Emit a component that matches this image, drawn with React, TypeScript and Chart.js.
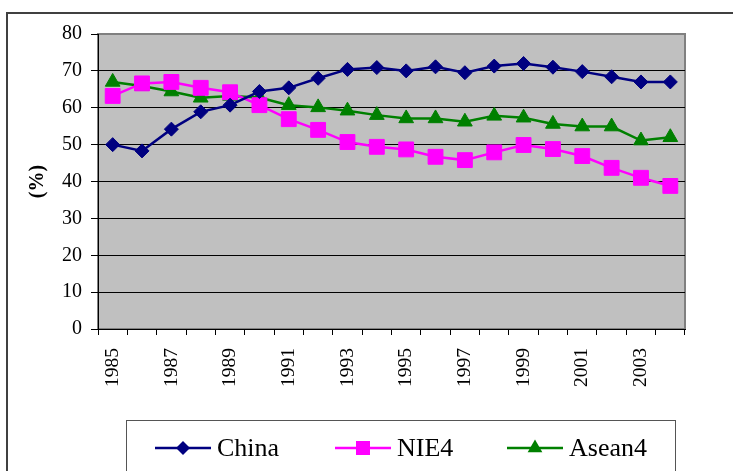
import React, { useEffect, useRef } from 'react';
import { Chart, registerables } from 'chart.js';

Chart.register(...registerables);

const years = ['1985', '1986', '1987', '1988', '1989', '1990', '1991', '1992', '1993', '1994', '1995', '1996', '1997', '1998', '1999', '2000', '2001', '2002', '2003', '2004'];
const china = [50.0, 48.3, 54.2, 58.9, 60.7, 64.4, 65.4, 68.0, 70.4, 70.9, 70.0, 71.1, 69.5, 71.3, 72.0, 71.0, 69.8, 68.4, 67.0, 67.0];
const nie4 = [63.2, 66.6, 67.0, 65.4, 64.2, 60.7, 56.9, 54.0, 50.7, 49.4, 48.7, 46.7, 45.8, 47.9, 49.9, 48.8, 46.9, 43.7, 41.0, 38.8];
const asean4 = [67.0, 65.9, 64.4, 62.7, 63.2, 62.8, 60.7, 60.1, 59.2, 58.0, 57.1, 57.1, 56.2, 57.8, 57.3, 55.6, 54.9, 54.9, 51.1, 52.0];
const seriesNames = ['China', 'NIE4', 'Asean4'];
const yMin = 0;
const yMax = 80;
const yStep = 10;
const yTitle = '(%)';

const colors = ['#000080', '#FF00FF', '#008000'];
const styles = ['rectRot', 'rect', 'triangle'];
const radii = [7, 10.5, 8.5];
const FONT = '"Liberation Serif", "Times New Roman", serif';

function drawMarker(ctx: CanvasRenderingContext2D, style: string, x: number, y: number, color: string) {
  ctx.fillStyle = color;
  ctx.beginPath();
  if (style === 'rectRot') {
    const r = 7;
    ctx.moveTo(x, y - r);
    ctx.lineTo(x + r, y);
    ctx.lineTo(x, y + r);
    ctx.lineTo(x - r, y);
  } else if (style === 'rect') {
    const s = 7;
    ctx.rect(x - s, y - s, 2 * s, 2 * s);
  } else {
    const r = 8.5;
    ctx.moveTo(x, y - r);
    ctx.lineTo(x + r * 0.866, y + r / 2);
    ctx.lineTo(x - r * 0.866, y + r / 2);
  }
  ctx.closePath();
  ctx.fill();
}

const framePlugin = {
  id: 'frame',
  beforeDraw(chart: any) {
    const { ctx, chartArea: a } = chart;
    ctx.save();
    ctx.fillStyle = '#C0C0C0';
    ctx.fillRect(a.left, a.top, a.right - a.left, a.bottom - a.top);
    ctx.strokeStyle = '#808080';
    ctx.lineWidth = 2;
    ctx.strokeRect(a.left, a.top, a.right - a.left, a.bottom - a.top);
    ctx.restore();
  },
  afterDraw(chart: any) {
    const { ctx, width, height } = chart;
    ctx.save();
    ctx.strokeStyle = '#404040';
    ctx.lineWidth = 2;
    ctx.beginPath();
    ctx.moveTo(7, height + 5);
    ctx.lineTo(7, 13);
    ctx.lineTo(width + 5, 13);
    ctx.stroke();

    ctx.strokeStyle = '#555555';
    ctx.lineWidth = 1;
    ctx.strokeRect(126.5, 420.5, 549, 120);

    const starts = [155, 335, 507];
    const ly = 448;
    ctx.font = '26px ' + FONT;
    ctx.textBaseline = 'middle';
    ctx.textAlign = 'left';
    chart.data.datasets.forEach((ds: any, i: number) => {
      const x0 = starts[i];
      ctx.strokeStyle = colors[i];
      ctx.lineWidth = 2.5;
      ctx.beginPath();
      ctx.moveTo(x0, ly);
      ctx.lineTo(x0 + 56, ly);
      ctx.stroke();
      drawMarker(ctx, styles[i], x0 + 28, ly, colors[i]);
      ctx.fillStyle = '#000';
      ctx.fillText(ds.label, x0 + 62, ly + 1);
    });
    ctx.restore();
  },
};

export default function App() {
  const ref = useRef<HTMLCanvasElement>(null);
  useEffect(() => {
    document.body.style.margin = '0';
    const values = [china, nie4, asean4];
    const chart = new Chart(ref.current as HTMLCanvasElement, {
      type: 'line',
      data: {
        labels: years,
        datasets: values.map((v, i) => ({
          label: seriesNames[i],
          data: v,
          borderColor: colors[i],
          backgroundColor: colors[i],
          borderWidth: 2.5,
          pointStyle: styles[i] as any,
          pointRadius: radii[i],
          pointHoverRadius: radii[i],
          pointBorderWidth: 1,
          tension: 0,
          fill: false,
        })),
      },
      options: {
        responsive: false,
        animation: false,
        devicePixelRatio: 1,
        layout: { padding: { left: 0, top: 34, right: 48, bottom: 0 } },
        plugins: { legend: { display: false }, tooltip: { enabled: false } },
        scales: {
          x: {
            type: 'category',
            offset: true,
            grid: { offset: true, drawOnChartArea: false, drawTicks: true, tickLength: 6, color: '#000', tickColor: '#000' },
            border: { display: true, color: '#000', width: 1 },
            ticks: {
              autoSkip: false,
              minRotation: 90,
              maxRotation: 90,
              padding: 13,
              color: '#000',
              font: { family: FONT, size: 19.5 },
              callback: (_v: any, idx: number) => (idx % 2 === 0 ? years[idx] : ''),
            },
            afterFit: (s: any) => { s.height = 142; },
          },
          y: {
            min: yMin,
            max: yMax,
            ticks: { stepSize: yStep, padding: 9, color: '#000', font: { family: FONT, size: 20 } },
            grid: {
              drawTicks: true,
              tickLength: 7,
              tickColor: '#000',
              color: (c: any) => (c.tick && (c.tick.value === yMax || c.tick.value === yMin) ? 'rgba(0,0,0,0)' : '#000'),
            },
            border: { display: true, color: '#000', width: 1 },
            title: {
              display: true,
              text: yTitle,
              color: '#000',
              font: { family: FONT, size: 20, weight: 'bold' },
              padding: { top: 26, bottom: 0 },
            },
            afterFit: (s: any) => { s.width = 98; },
          },
        },
      },
      plugins: [framePlugin],
    });
    return () => chart.destroy();
  }, []);
  return <canvas ref={ref} width={733} height={471} style={{ display: 'block' }} />;
}
